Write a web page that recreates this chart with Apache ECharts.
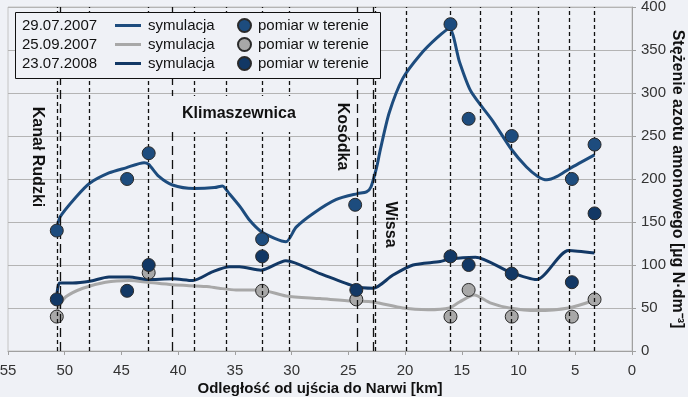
<!DOCTYPE html>
<html>
<head>
<meta charset="utf-8">
<script src="https://cdn.jsdelivr.net/npm/echarts@6/dist/echarts.min.js"></script>
<style>
  html, body { margin: 0; padding: 0; background: #eff1f6; }
  #chart { width: 688px; height: 397px; }
</style>
</head>
<body>
<div id="chart"></div>
<script>
// symulacja 29.07.2007 (odległość km / stężenie)
var sim1Km  = [50.7, 50.4, 49.0, 47.8, 46.1, 44.6, 43.0, 42.6, 41.7, 40.5, 38.6, 36.8, 36.1, 35.5, 34.5, 33.7, 32.7, 31.5, 30.5, 29.6, 28.1, 26.1, 24.2, 23.4, 23.0, 22.5, 22.2, 21.4, 20.2, 18.7, 17.2, 16.1, 15.2, 14.2, 12.3, 10.6, 9.3, 8.3, 7.5, 6.6, 5.5, 3.3];
var sim1Val = [142, 156, 179, 195, 207, 213, 219, 217, 203, 193, 189, 190, 192, 183, 167, 152, 139, 131, 127, 144, 160, 176, 183, 185, 191, 214, 233, 277, 317, 344, 364, 375, 336, 302, 268, 234, 214, 203, 199, 203, 212, 228];
// symulacja 25.09.2007
var sim2Km  = [50.7, 50.5, 49.9, 48.4, 46.4, 44.3, 42.7, 40.5, 37.5, 36.4, 34.9, 32.8, 30.5, 27.5, 24.6, 22.8, 20.2, 18.0, 16.1, 15.2, 13.9, 12.5, 10.8, 8.4, 5.6, 3.3];
var sim2Val = [45, 52, 63, 73, 80, 82, 80, 77, 75, 73, 71, 71, 64, 61, 58, 57, 50, 48, 50, 57, 65, 56, 50, 47, 50, 59];
// symulacja 23.07.2008
var sim3Km  = [50.7, 50.45, 49.3, 47.8, 46.1, 44.3, 42.7, 40.5, 38.7, 37.0, 35.5, 34.6, 32.7, 30.5, 27.5, 24.4, 22.8, 21.1, 19.3, 16.9, 16.1, 13.8, 10.8, 8.4, 5.6, 3.3];
var sim3Val = [62, 79, 79, 81, 86, 86, 83, 84, 82, 92, 98, 98, 94, 105, 90, 75, 73, 88, 100, 104, 107, 109, 92, 83, 117, 114];

// pomiary w terenie
var pts1Km  = [50.7, 44.5, 42.6, 32.6, 24.4, 16.0, 14.4, 10.6, 5.3, 3.3];
var pts1Val = [140, 200, 230, 130, 170, 380, 270, 250, 200, 240];
var pts2Km  = [50.7, 42.6, 32.6, 24.3, 16.0, 14.4, 10.6, 5.3, 3.3];
var pts2Val = [40, 91, 70, 60, 40, 71, 40, 40, 60];
var pts3Km  = [50.7, 44.5, 42.6, 32.6, 24.3, 16.0, 14.4, 10.6, 5.3, 3.3];
var pts3Val = [60, 70, 100, 110, 71, 110, 100, 90, 80, 160];

// dopływy (długa kreska) i przekroje obliczeniowe (krótka kreska)
var tribKm = [50.4, 40.5, 24.2, 22.8];
var nodeKm = [50.7, 47.8, 42.6, 38.6, 35.8, 32.6, 30.2, 22.65, 19.9, 16.0, 13.4, 10.6, 8.3, 5.5, 3.3];

var dates = ['29.07.2007', '25.09.2007', '23.07.2008'];
var xTicks = [0, 55, 5];
var yTicks = [0, 400, 50];

var bg = '#eff1f6';
var colors = ['#1d4c7e', '#a8a8a8', '#123865'];
var font = '"Liberation Sans", Arial, sans-serif';

function pairs(xs, ys) {
  return xs.map(function (x, i) { return [x, ys[i]]; });
}

var chartDom = document.getElementById('chart');
var myChart = echarts.init(chartDom);

var vLines = tribKm.map(function (k) {
  return { xAxis: k, lineStyle: { type: [9, 5], color: '#111', width: 1.3 } };
}).concat(nodeKm.map(function (k) {
  return { xAxis: k, lineStyle: { type: [4, 3], color: '#111', width: 1.3 } };
}));

function simSeries(name, km, val, color) {
  return {
    name: name,
    type: 'line',
    data: pairs(km, val),
    showSymbol: false,
    symbol: 'none',
    smooth: 0.25,
    z: 3,
    lineStyle: { width: 3, color: color },
    itemStyle: { color: color }
  };
}

function ptsSeries(name, km, val, color, z) {
  return {
    name: name,
    type: 'scatter',
    data: pairs(km, val),
    symbolSize: 13,
    z: z,
    itemStyle: { color: color, borderColor: '#2a2a2a', borderWidth: 1, opacity: 1 }
  };
}

var option = {
  backgroundColor: bg,
  animation: false,
  textStyle: { fontFamily: font },
  grid: {
    left: 8, right: 56, top: 7, bottom: 46,
    containLabel: false,
    outerBoundsMode: 'none',
    show: true, borderColor: '#c4c4c4', borderWidth: 1, backgroundColor: 'transparent'
  },
  legend: [{
    data: ['sym1', 'sym2', 'sym3'],
    orient: 'vertical',
    left: 115, top: 16,
    padding: 0,
    itemGap: 0,
    itemWidth: 26, itemHeight: 3,
    icon: 'rect',
    selectedMode: false,
    z: 30,
    formatter: function () { return 'symulacja'; },
    textStyle: { fontSize: 15, lineHeight: 19, color: '#111', fontFamily: font, padding: [0, 0, 0, 2] }
  }, {
    data: ['pom1', 'pom2', 'pom3'],
    orient: 'vertical',
    left: 237, top: 16,
    padding: 0,
    itemGap: 0,
    itemWidth: 13, itemHeight: 13,
    icon: 'circle',
    selectedMode: false,
    z: 30,
    formatter: function () { return 'pomiar w terenie'; },
    textStyle: { fontSize: 15, lineHeight: 19, color: '#111', fontFamily: font, padding: [0, 0, 0, 2] }
  }],
  xAxis: {
    type: 'value',
    min: xTicks[0], max: xTicks[1], interval: xTicks[2],
    inverse: true,
    name: 'Odległość od ujścia do Narwi [km]',
    nameLocation: 'middle',
    nameGap: 30,
    nameMoveOverlap: false,
    nameTextStyle: { fontWeight: 'bold', fontSize: 15, color: '#111', fontFamily: font },
    axisLine: { show: true, lineStyle: { color: '#a0a0a0', width: 1 } },
    axisTick: { show: true, length: 4, lineStyle: { color: '#a0a0a0' } },
    axisLabel: { fontSize: 15, color: '#333', margin: 12, fontFamily: font },
    splitLine: { show: false }
  },
  yAxis: {
    type: 'value',
    position: 'right',
    min: yTicks[0], max: yTicks[1], interval: yTicks[2],
    name: 'Stężenie azotu amonowego [µg N·dm⁻³]',
    nameLocation: 'middle',
    nameRotate: -90,
    nameGap: 37,
    nameMoveOverlap: false,
    nameTextStyle: { fontWeight: 'bold', fontSize: 16, color: '#111', fontFamily: font },
    axisLine: { show: true, lineStyle: { color: '#a0a0a0', width: 1 } },
    axisTick: { show: true, length: 4, lineStyle: { color: '#a0a0a0' } },
    axisLabel: { fontSize: 15, color: '#333', margin: 9, fontFamily: font },
    splitLine: { show: true, lineStyle: { color: '#b4b4b4', width: 1 } }
  },
  graphic: [
    // ramka legendy
    { type: 'rect', z: 20, shape: { x: 15.5, y: 12.5, width: 365, height: 66 },
      style: { fill: bg, stroke: '#111', lineWidth: 1 } },
    { type: 'text', z: 21, x: 22, y: 25.5, style: { text: dates[0], font: '15px ' + font, fill: '#111', verticalAlign: 'middle' } },
    { type: 'text', z: 21, x: 22, y: 44.5, style: { text: dates[1], font: '15px ' + font, fill: '#111', verticalAlign: 'middle' } },
    { type: 'text', z: 21, x: 22, y: 63.5, style: { text: dates[2], font: '15px ' + font, fill: '#111', verticalAlign: 'middle' } },
    // nazwy dopływów
    { type: 'text', z: 20, x: 37, y: 157, rotation: -Math.PI / 2,
      style: { text: 'Kanał Rudzki', font: 'bold 16px ' + font, fill: '#111', align: 'center', verticalAlign: 'middle' } },
    { type: 'text', z: 20, x: 170, y: 114,
      style: { text: 'Klimaszewnica', font: 'bold 16px ' + font, fill: '#111', verticalAlign: 'middle',
               backgroundColor: bg, padding: [10, 4, 10, 12] } },
    { type: 'text', z: 20, x: 342, y: 136.5, rotation: -Math.PI / 2,
      style: { text: 'Kosódka', font: 'bold 16px ' + font, fill: '#111', align: 'center', verticalAlign: 'middle' } },
    { type: 'text', z: 20, x: 390, y: 224.5, rotation: -Math.PI / 2,
      style: { text: 'Wissa', font: 'bold 16px ' + font, fill: '#111', align: 'center', verticalAlign: 'middle' } }
  ],
  series: [
    {
      name: 'linie',
      type: 'line',
      data: [],
      z: 1,
      silent: true,
      markLine: {
        silent: true,
        symbol: 'none',
        animation: false,
        label: { show: false },
        emphasis: { disabled: true },
        data: vLines
      }
    },
    simSeries('sym2', sim2Km, sim2Val, colors[1]),
    simSeries('sym1', sim1Km, sim1Val, colors[0]),
    simSeries('sym3', sim3Km, sim3Val, colors[2]),
    ptsSeries('pom2', pts2Km, pts2Val, colors[1], 4),
    ptsSeries('pom1', pts1Km, pts1Val, colors[0], 5),
    ptsSeries('pom3', pts3Km, pts3Val, colors[2], 5)
  ]
};

myChart.setOption(option);
</script>
</body>
</html>
